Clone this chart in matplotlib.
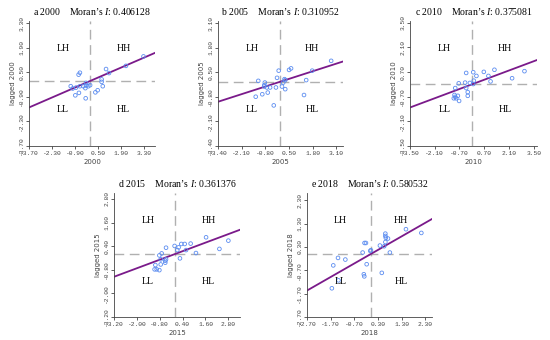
import numpy as np
import matplotlib
matplotlib.use("Agg")
import matplotlib.pyplot as plt

plt.rcParams["mathtext.fontset"] = "custom"
plt.rcParams["mathtext.it"] = "Liberation Serif:italic"
plt.rcParams["mathtext.rm"] = "Liberation Serif"

# panel data (standardized value, spatially lagged value)
years = ["2000", "2005", "2010", "2015", "2018"]
letters = ["a", "b", "c", "d", "e"]
moran_i = [0.406128, 0.310952, 0.375081, 0.361376, 0.580532]

x_2000 = [3.27, 2.2, 0.99, 1.17, -0.6, -0.68, 0.72, 0.72, 0.79, 0.48, 0.34, -0.23,
          -0.23, -0.27, -0.25, -0.6, -0.66, -0.88, -1.16, -1.04, -0.84, 0.02, -0.39, -0.09]
y_2000 = [1.41, 0.87, 0.69, 0.46, 0.48, 0.37, 0.1, -0.04, -0.29, -0.52, -0.64, -0.1,
          -0.25, -0.4, -0.98, -0.29, -0.67, -0.81, -0.29, -0.42, -0.37, -0.23, -0.29, -0.29]
x_2005 = [2.81, 1.77, 1.44, 1.32, 0.61, 0.5, -0.07, -0.16, 0.25, 0.29, 0.18, 0.29,
          0.11, -0.22, -0.34, -0.54, -0.67, -0.83, -0.86, -0.86, -0.97, -1.19, -1.33, -0.72]
y_2005 = [1.11, 0.59, 0.09, -0.7, 0.71, 0.63, 0.59, 0.21, 0.14, 0.09, -0.04, -0.39,
          -0.25, -0.3, -1.25, -0.3, -0.57, -0.04, -0.18, -0.25, -0.66, 0.05, -0.79, -0.3]
x_2010 = [2.98, 2.28, 1.28, 0.68, 0.94, 1.06, 0.08, 0.26, 0.11, 0.08, -0.11, -0.32,
          -0.38, -0.32, -0.23, -0.23, -0.74, -0.94, -0.98, -0.94, -0.89, -0.72, -0.79, -1.02]
y_2010 = [0.75, 0.35, 0.83, 0.71, 0.48, 0.17, 0.69, 0.48, 0.21, 0.02, 0.08, 0.65,
          0.1, -0.21, -0.44, -0.65, 0.06, -0.21, -0.6, -0.71, -0.79, -0.94, -0.65, -0.79]
x_2015 = [2.8, 2.33, 1.63, 1.1, 0.82, 0.51, 0.33, 0.58, 0.26, 0.19, 0.12, -0.02,
          -0.47, -0.51, -0.51, -0.47, -0.7, -0.82, -0.75, -0.82, -0.96, -1.03, -1.07, -0.75]
y_2015 = [0.68, 0.26, 0.85, 0.05, 0.53, 0.51, 0.51, 0.2, -0.22, 0.34, 0.2, 0.41,
          0.32, -0.34, -0.44, -0.27, 0.03, -0.07, -0.53, -0.82, -0.78, -0.56, -0.78, -0.27]
x_2018 = [2.13, 1.48, 0.8, 0.72, 0.61, 0.61, 0.63, 0.61, 0.56, 0.38, 0.46, 0.0,
          -0.03, -0.21, -0.27, -0.35, -0.18, -0.3, -0.28, -1.08, -1.39, -1.59, -1.37, -1.65]
y_2018 = [0.9, 1.06, 0.06, 0.66, 0.87, 0.77, 0.69, 0.51, 0.33, 0.36, -0.81, 0.16,
          0.13, 0.47, 0.47, 0.06, -0.44, -0.87, -0.96, -0.24, -0.17, -0.49, -1.13, -1.47]
xs = [x_2000, x_2005, x_2010, x_2015, x_2018]
ys = [y_2000, y_2005, y_2010, y_2015, y_2018]

tick_labels_2000 = ["-3.70", "-2.30", "-0.90", "0.50", "1.90", "3.30"]
tick_labels_2005 = ["-3.40", "-2.10", "-0.80", "0.50", "1.80", "3.10"]
tick_labels_2010 = ["-3.50", "-2.10", "-0.70", "0.70", "2.10", "3.50"]
tick_labels_2015 = ["-3.20", "-2.00", "-0.80", "0.40", "1.60", "2.80"]
tick_labels_2018 = ["-2.70", "-1.70", "-0.70", "0.30", "1.30", "2.30"]
tick_labels = [tick_labels_2000, tick_labels_2005, tick_labels_2010,
               tick_labels_2015, tick_labels_2018]

# axes boxes in pixels (left, top, right, bottom) and upper limits
boxes = [(29, 21, 155, 146), (218, 21, 343, 146), (410, 21, 537, 146),
         (114, 193, 240, 317), (307, 193, 432, 317)]
x_max = [3.97, 3.46, 3.69, 3.41, 2.58]
y_max = [3.43, 3.22, 3.6, 3.1, 2.61]

W, H = 550, 340
fig = plt.figure(figsize=(5.5, 3.4), dpi=100)
serif = "Liberation Serif"
mono = "Liberation Mono"

for i in range(5):
    l, t, r, b = boxes[i]
    ax = fig.add_axes([l / W, 1 - b / H, (r - l) / W, (b - t) / H])
    ticks = [float(v) for v in tick_labels[i]]
    ax.set_xlim(ticks[0], x_max[i])
    ax.set_ylim(ticks[0], y_max[i])
    ax.set_xticks(ticks)
    ax.set_yticks(ticks)
    ax.set_xticklabels(tick_labels[i], fontsize=4.5, color="#444444", family=mono)
    ax.set_yticklabels(tick_labels[i], fontsize=4.5, color="#444444", family=mono,
                       rotation=90, va="center")
    ax.tick_params(length=2, width=0.6, pad=1.5, colors="#444444")
    for s in ["top", "right"]:
        ax.spines[s].set_visible(False)
    for s in ["left", "bottom"]:
        ax.spines[s].set_linewidth(0.6)
        ax.spines[s].set_color("#444444")

    ax.axhline(0, color="#B0B0B0", lw=1.0, ls=(0, (7, 4)), zorder=1)
    ax.axvline(0, color="#B0B0B0", lw=1.0, ls=(0, (7, 4)), zorder=1)
    ax.scatter(xs[i], ys[i], s=7, facecolors="none", edgecolors="#5B8CF0",
               linewidths=0.6, zorder=3)
    ax.axline((0, 0), slope=moran_i[i], color="#7A1A8A", lw=1.3, zorder=2)

    for txt, fx, fy in [("LH", 0.27, 0.78), ("HH", 0.75, 0.78),
                        ("LL", 0.27, 0.29), ("HL", 0.75, 0.29)]:
        ax.text(fx, fy, txt, transform=ax.transAxes, ha="center", va="center",
                fontsize=7, family=serif)

    ax.set_title(f"{letters[i]} {years[i]}    Moran\u2019s $I$: {moran_i[i]:.6f}",
                 fontsize=7, family=serif, pad=4)
    ax.set_xlabel(years[i], fontsize=5, color="#444444", labelpad=2)
    ax.set_ylabel(f"lagged {years[i]}", fontsize=5, color="#444444", labelpad=2)

fig.savefig("out.png", dpi=100)
